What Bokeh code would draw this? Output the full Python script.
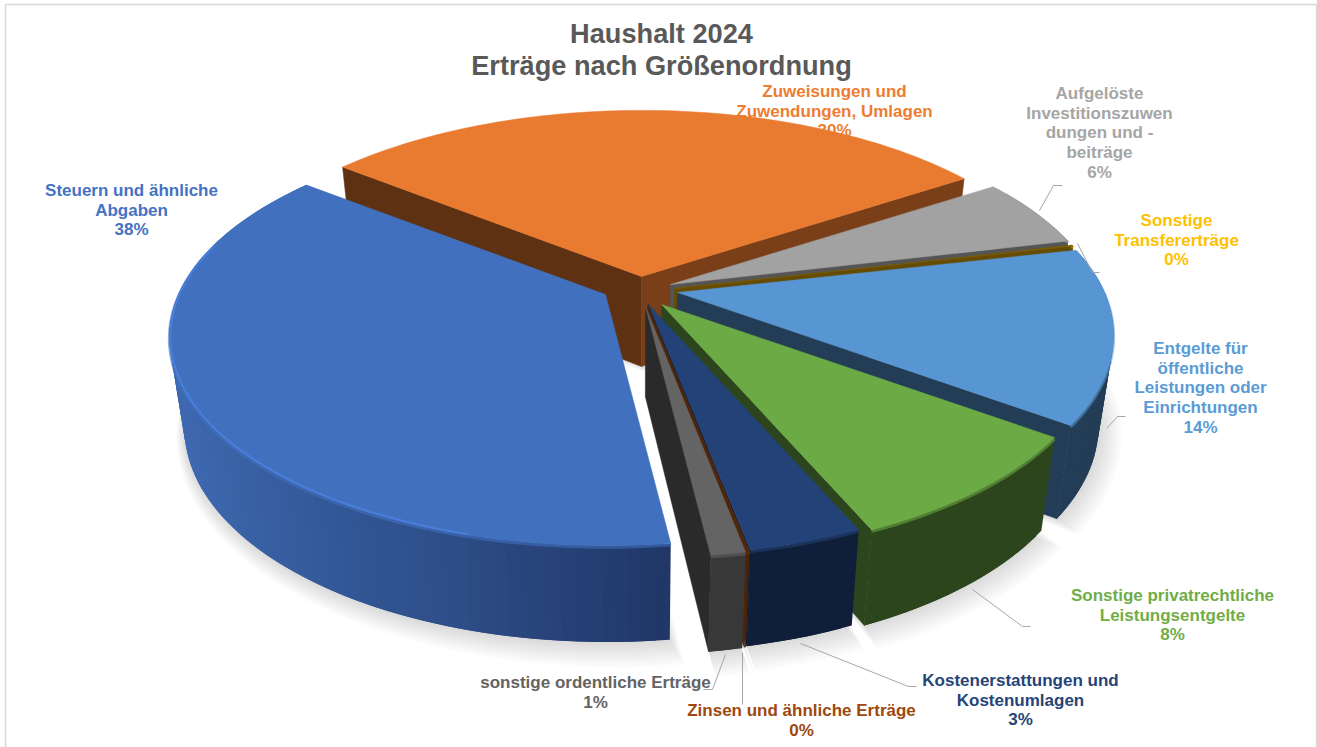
import math
from bokeh.plotting import figure
from bokeh.models import Range1d
from bokeh.embed import file_html
from bokeh.resources import INLINE
from bokeh.core.properties import value

# ---------- data (clockwise, starting at the first slice angle) ----------
categories = ["Zuweisungen und\nZuwendungen, Umlagen",
              "Aufgelöste\nInvestitionszuwen\ndungen und -\nbeiträge",
              "Sonstige\nTransfererträge",
              "Entgelte für\nöffentliche\nLeistungen oder\nEinrichtungen",
              "Sonstige privatrechtliche\nLeistungsentgelte",
              "Kostenerstattungen und\nKostenumlagen",
              "Zinsen und ähnliche Erträge",
              "sonstige ordentliche Erträge",
              "Steuern und ähnliche\nAbgaben"]
shares = [30.3, 5.5, 0.1, 13.5, 8.49, 3.5, 0.05, 1.06, 37.5]
share_labels = ["30%", "6%", "0%", "14%", "8%", "3%", "0%", "1%", "38%"]
title_lines = ["Haushalt 2024", "Erträge nach Größenordnung"]

# ---------- styles ----------
face_colors = ["#ed7d31", "#a5a5a5", "#ffc000", "#5b9bd5", "#70ad47", "#264478", "#9e480e", "#636363", "#4472c4"]
top_colors = ["#e97b30", "#a2a2a2", "#7a5c00", "#5795d3", "#6caa45", "#234277", "#5a2a0a", "#646464", "#4170bf"]
end_wall = ["#7a3f18", "#555555", "#664c00", "#223d55", "#2c451c", "#0c1a33", "#4f2407", "#2a2a2a", None]
start_wall = ["#5f3113", None, None, None, None, None, None, None, None]
outer_wall = ["#7a3f18", "#555555", "#664c00", "#223d55", "#2c451c", "#0f1f3a", "#4f2407", "#383838", None]
blue_stops = [(175, (0x3e, 0x68, 0xb0)), (300, (0x34, 0x5a, 0x9a)), (450, (0x2d, 0x4d, 0x87)), (668, (0x1f, 0x36, 0x65))]

# ---------- geometry of the perspective view ----------
W, H = 1317, 747
FIRST_ANGLE = -52.0
R, V, K = 427.0, 200.0, 0.204
VPX, SCALE, DEPTH, DEPTH_GROW = 640.0, 0.968, 90.0, 0.025
apex_x = [641, 670, 674, 677, 661, 648, 647, 645, 605]
apex_y = [276, 284, 288, 292, 304, 304, 305, 306, 294]
shadow_dx = [0.3, 0.3, 0.3, 0.3, 0.3, 0.3, 0.3, 0.3, 1.0]

def project(theta, ax, ay, dr=0.0):
    t = math.radians(theta)
    Y = -math.cos(t)
    w = 1 - K * Y
    return ax + (R + dr) * math.sin(t) / w, ay + (V + dr * 0.75) * Y / w

def lower(x, y, ay):
    return VPX + (x - VPX) * SCALE, y + DEPTH + DEPTH_GROW * (y - ay)

def arc(a0, a1, ax, ay, dr=0.0):
    n = max(2, int((a1 - a0) / 1.5) + 2)
    return [project(a0 + (a1 - a0) * j / (n - 1), ax, ay, dr) for j in range(n)]

def hexc(c):
    return "#%02x%02x%02x" % tuple(int(round(v)) for v in c)

def blue_at(x):
    if x <= blue_stops[0][0]:
        return blue_stops[0][1]
    for (x0, c0), (x1, c1) in zip(blue_stops, blue_stops[1:]):
        if x <= x1:
            f = (x - x0) / (x1 - x0)
            return tuple(a + (b - a) * f for a, b in zip(c0, c1))
    return blue_stops[-1][1]

p = figure(width=W, height=H, x_range=Range1d(0, W), y_range=Range1d(H, 0),
           output_backend="svg", toolbar_location=None,
           x_axis_location=None, y_axis_location=None, min_border=0,
           outline_line_color=None, background_fill_color="white", border_fill_color="white")
p.grid.visible = False

FONT = value("Liberation Sans")

# chart frame
p.line([5, 5], [4, H], line_color="#d9d9d9", line_width=1.5)
p.line([5, W - 1], [4, 4], line_color="#d9d9d9", line_width=1.5)
p.line([W - 1, W - 1], [4, H], line_color="#d9d9d9", line_width=1.5)

# title
for txt, yy in zip(title_lines, [33, 65]):
    p.text([661], [yy], text=[txt], text_font=FONT, text_font_style="bold", text_font_size="27.2px",
           text_color="#595959", text_align="center", text_baseline="middle")

# labels (drawn first: the slices lie above them)
label_anchor = [(834, 91), (1099, 93), (1176, 220), (1200, 348), (1172, 595), (1020, 680), (801, 710), (595, 682), (131, 190)]
label_step = 19.7
for cat, pct, col, (lx, ly) in zip(categories, share_labels, face_colors, label_anchor):
    for j, line in enumerate(cat.split("\n") + [pct]):
        p.text([lx], [ly + j * label_step], text=[line], text_font=FONT, text_font_style="bold",
               text_font_size="17px", text_color=col, text_align="center", text_baseline="middle")

# slice angles from the shares
angles = []
a = FIRST_ANGLE
for s in shares:
    angles.append((a, a + s * 3.6))
    a += s * 3.6

# soft shadow under the pie
for k in range(12, 0, -1):
    xs, ys = [], []
    for i, (a0, a1) in enumerate(angles):
        ax, ay = apex_x[i], apex_y[i]
        pts = [(ax, ay)] + arc(a0, a1, ax, ay, dr=k * 1.7)
        low = [lower(x, y, ay) for x, y in pts]
        xs.append([q[0] + k * shadow_dx[i] for q in low])
        ys.append([q[1] + k * 0.5 for q in low])
    p.patches(xs, ys, fill_color="#000000", fill_alpha=0.012, line_color=None)

# slices, back to front
for i, (a0, a1) in enumerate(angles):
    ax, ay = apex_x[i], apex_y[i]
    bax, bay = lower(ax, ay, ay)
    c0 = project(a0, ax, ay)
    c1 = project(a1, ax, ay)
    if start_wall[i]:
        b = lower(*c0, ay)
        p.patch([ax, c0[0], b[0], bax], [ay, c0[1], b[1], bay], fill_color=start_wall[i], line_color=start_wall[i], line_width=0.5)
    if end_wall[i]:
        b = lower(*c1, ay)
        p.patch([ax, c1[0], b[0], bax], [ay, c1[1], b[1], bay], fill_color=end_wall[i], line_color=end_wall[i], line_width=0.5)
    # outer wall as overlapping strips (for the gradient, without seams)
    v0, v1 = max(a0, 60.0), min(a1, 320.0)
    if v1 > v0:
        rim = arc(v0, v1, ax, ay)
        sx, sy, sc = [], [], []
        for j in range(len(rim) - 1):
            x0, y0 = rim[j]
            x1, y1 = rim[min(j + 2, len(rim) - 1)]
            b0 = lower(x0, y0, ay)
            b1 = lower(x1, y1, ay)
            sx.append([x0, x1, b1[0], b0[0]])
            sy.append([y0, y1, b1[1], b0[1]])
            sc.append(outer_wall[i] if outer_wall[i] else hexc(blue_at((x0 + x1) / 2)))
        p.patches(sx, sy, fill_color=sc, line_color=None)
        # soft transition between the wall and the face
        p.line([q[0] for q in rim], [q[1] + 1.5 for q in rim], line_color=face_colors[i], line_alpha=0.55, line_width=3)
    # top face
    top = [(ax, ay)] + arc(a0, a1, ax, ay)
    p.patch([q[0] for q in top], [q[1] for q in top], fill_color=top_colors[i], line_color=top_colors[i], line_width=0.5)

# bright rim on the big slice
bi = len(shares) - 1
hl = arc(195, 285, apex_x[bi], apex_y[bi], dr=-1.0)
p.line([q[0] for q in hl], [q[1] for q in hl], line_color="#4a80de", line_width=2, line_alpha=0.9)

# leader lines
leader_x = [[1039, 1053, 1062], [1077, 1092, 1099], [1106, 1117, 1125], [972, 1022, 1030],
            [800, 908, 916], [742, 742], [725, 712, 703]]
leader_y = [[210, 185, 185], [243, 272, 272], [428, 416, 416], [589, 626, 626],
            [643, 686, 686], [652, 704], [654, 689, 689]]
for lx, ly in zip(leader_x, leader_y):
    p.line(lx, ly, line_color="#a6a6a6", line_width=1)

open("out.html", "w").write(file_html(p, INLINE))
